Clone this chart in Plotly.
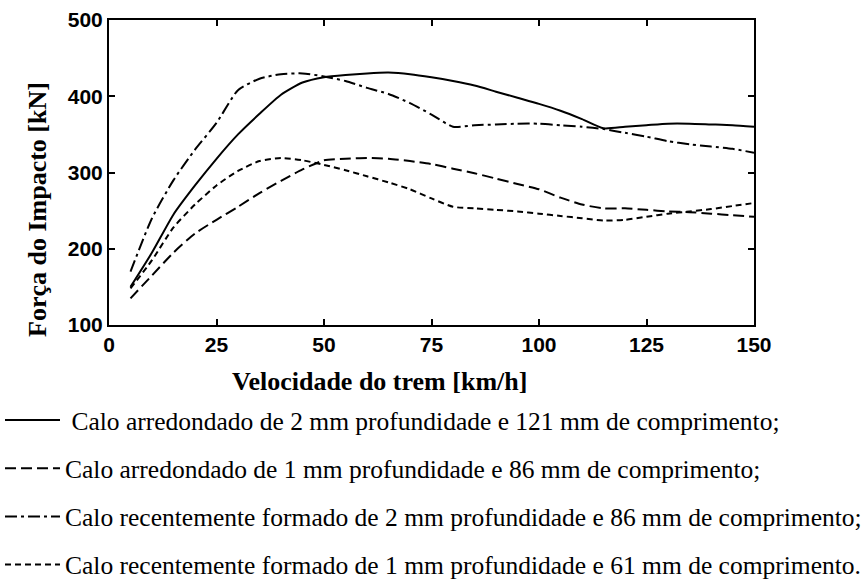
import plotly.graph_objects as go

# ---- data ----
velocidade = [5, 10, 15, 20, 25, 30, 35, 40, 45, 50, 55, 60, 65, 70, 75,
              80, 85, 90, 95, 100, 105, 110, 115, 120, 125, 130, 135, 140, 145, 150]

arred_2mm_121 = [150, 195, 245, 283, 318, 350, 377, 402, 418, 425, 428, 430, 431, 429, 425,
                 420, 414, 406, 398, 390, 381, 370, 358, 360, 362, 364, 364, 363, 362, 360]

arred_1mm_86 = [135, 165, 195, 220, 238, 255, 273, 289, 304, 316, 318, 319, 318, 315, 311,
                305, 299, 292, 285, 278, 267, 258, 253, 253, 251, 249, 248, 246, 244, 242]

recente_2mm_86 = [170, 240, 290, 330, 365, 408, 423, 429, 430, 426, 420, 411, 403, 391, 376,
                  360, 362, 363, 364, 364, 362, 360, 357, 352, 347, 341, 337, 334, 331, 326]

recente_1mm_61 = [148, 185, 228, 258, 283, 302, 315, 319, 316, 310, 303, 295, 287, 278, 266,
                  255, 253, 251, 249, 246, 243, 240, 237, 238, 242, 246, 249, 252, 256, 260]

nomes = [
    "\u00a0Calo arredondado de 2 mm profundidade e 121 mm de comprimento;",
    "Calo arredondado de 1 mm profundidade e 86 mm de comprimento;",
    "Calo recentemente formado de 2 mm profundidade e 86 mm de comprimento;",
    "Calo recentemente formado de 1 mm profundidade e 61 mm de comprimento.",
]
series = [arred_2mm_121, arred_1mm_86, recente_2mm_86, recente_1mm_61]
dashes = ["solid", "11px,5px", "12px,4px,3px,4px", "6px,4px"]

x_ticks = [0, 25, 50, 75, 100, 125, 150]
y_ticks = [100, 200, 300, 400, 500]

L, R, T, B = 109, 108, 20, 254
W, H = 862, 579
PW, PH = W - L - R, H - T - B

fig = go.Figure()
for i, (nome, ys, d) in enumerate(zip(nomes, series, dashes)):
    fig.add_trace(go.Scatter(
        x=velocidade, y=ys, mode="lines", name=nome,
        legendgroup=f"g{i}",
        line=dict(color="black", width=2, dash=d, shape="spline", smoothing=0.6),
    ))

axis_common = dict(
    showline=True, linecolor="black", linewidth=2, mirror="ticks",
    ticks="inside", ticklen=6, tickwidth=2, tickcolor="black",
    showgrid=False, zeroline=False,
    tickfont=dict(family="Liberation Sans", size=21, color="black", weight="bold"),
)

fig.update_layout(
    width=W, height=H,
    margin=dict(l=L, r=R, t=T, b=B, autoexpand=False),
    paper_bgcolor="white", plot_bgcolor="white",
    showlegend=True,
    xaxis=dict(range=[0, 150], tickvals=x_ticks, **axis_common),
    yaxis=dict(range=[100, 500], tickvals=y_ticks, **axis_common),
    legend=dict(
        xref="paper", yref="paper", x=-L / PW, y=(T + PH - 397) / PH,
        xanchor="left", yanchor="top",
        font=dict(family="Liberation Serif", size=25.5, color="black"),
        traceorder="grouped", tracegroupgap=12, itemwidth=55,
        bgcolor="rgba(0,0,0,0)",
    ),
    annotations=[
        dict(text="<b>Velocidade do trem [km/h]</b>", xref="paper", yref="paper",
             x=(379 - L) / PW, y=(T + PH - 381) / PH, showarrow=False,
             xanchor="center", yanchor="middle",
             font=dict(family="Liberation Serif", size=26, color="black")),
        dict(text="<b>Força do Impacto [kN]</b>", xref="paper", yref="paper",
             x=(37 - L) / PW, y=(T + PH - 210) / PH, showarrow=False, textangle=-90,
             xanchor="center", yanchor="middle",
             font=dict(family="Liberation Serif", size=26, color="black")),
    ],
)

fig.write_html("out.html")
